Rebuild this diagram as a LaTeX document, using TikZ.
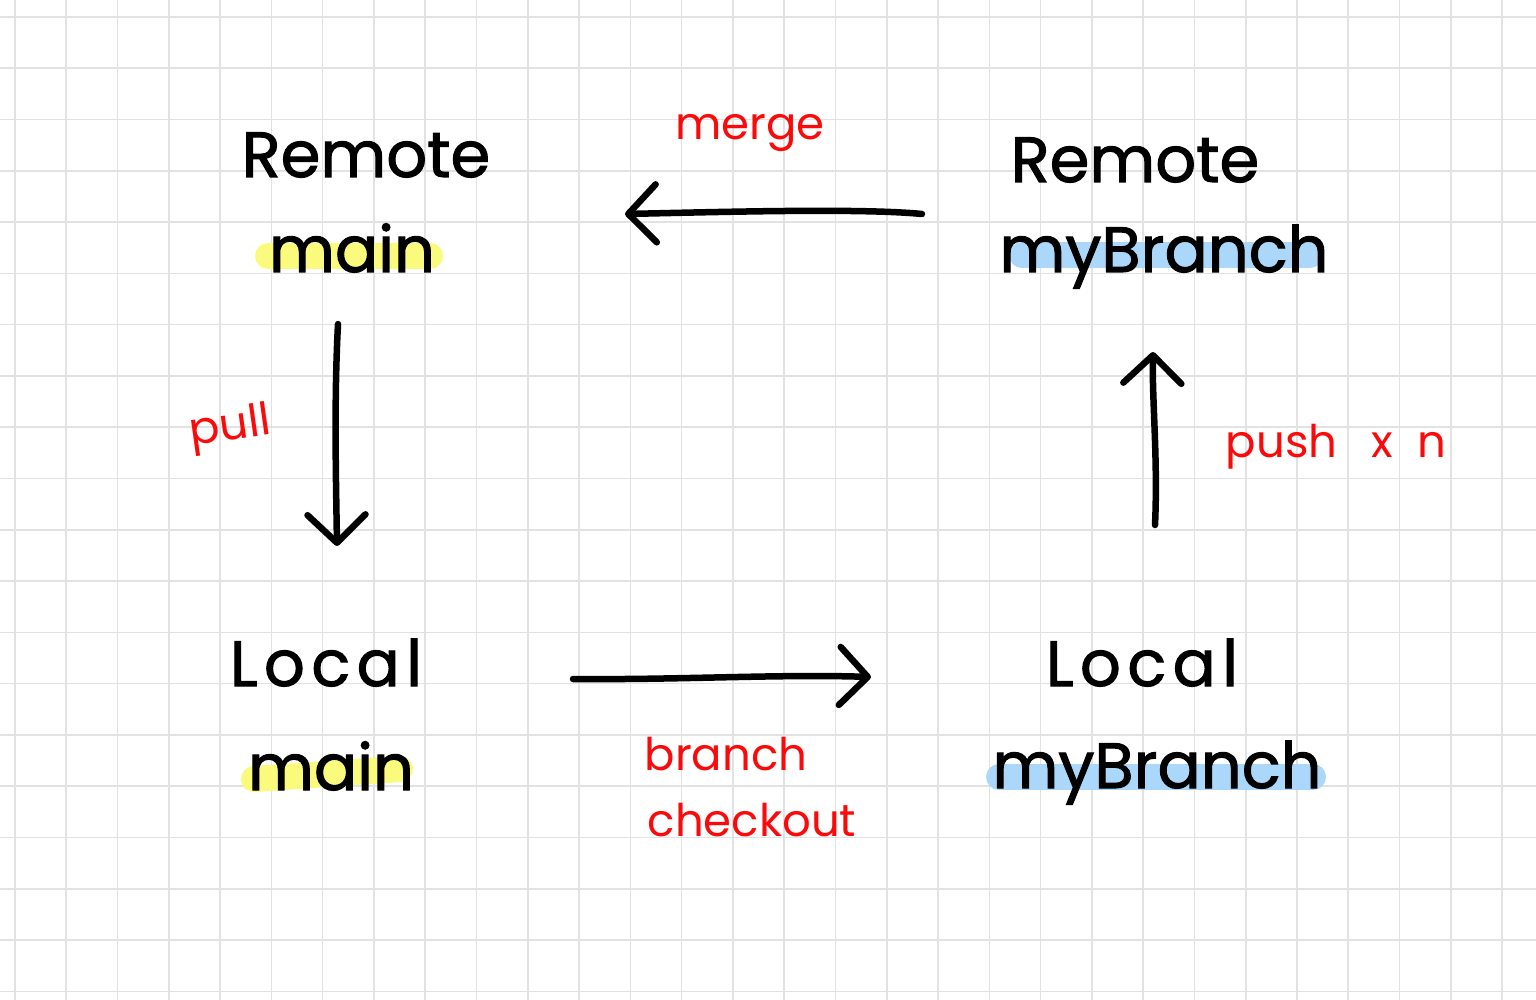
\documentclass[tikz,border=0pt]{standalone}
\usepackage{fontspec}
\setmainfont{Poppins}
\newfontfamily\inkfont{Poppins}[FakeBold=1.6]
\usetikzlibrary{arrows.meta}
\definecolor{gridgray}{RGB}{226,226,226}
\definecolor{hlyellow}{RGB}{250,250,125}
\definecolor{hlblue}{RGB}{170,215,250}
\definecolor{inkred}{RGB}{250,10,10}
\tikzset{
  gridline/.style={draw=gridgray, line width=1.6pt},
  bigtext/.style={anchor=base, inner sep=0pt, font=\inkfont\fontsize{64}{64}\selectfont},
  redtext/.style={anchor=base, inner sep=0pt, text=inkred, font=\fontsize{45}{45}\selectfont},
  hly/.style={draw=hlyellow, line width=26pt, line cap=round},
  hlb/.style={draw=hlblue, line width=26pt, line cap=round},
  flow/.style={draw=black, line width=6.5pt, line cap=round, line join=round,
    -{Straight Barb[length=28pt,width=58pt,round]}},
}
\begin{document}
\begin{tikzpicture}[x=1pt,y=-1pt]
\useasboundingbox (0,0) rectangle (1536,1000);
\fill[white] (0,0) rectangle (1536,1000);
% grid
\foreach \i in {0,...,29} \draw[gridline] ({15+51.28*\i},0) -- ({15+51.28*\i},1000);
\foreach \j in {0,...,19} \draw[gridline] (0,{17+51.28*\j}) -- (1536,{17+51.28*\j});
% highlights
\draw[hly] (268,256) -- (430,256);
\draw[hly] (254,779) -- (400,769);
\draw[hlb] (1022,255) -- (1310,255);
\draw[hlb] (999,777) -- (1313,777);
% labels
\node[bigtext] (rtitle) at (366,177) {Remote};
\node[bigtext] (rmain) at (352,272) {main};
\node[bigtext] (rbtitle) at (1135,182) {Remote};
\node[bigtext] (rbranch) at (1164,272) {myBranch};
\node[bigtext] (ltitle) at (326,686) {\addfontfeature{LetterSpace=10}Local};
\node[bigtext] (lmain) at (331,790) {main};
\node[bigtext] (lbtitle) at (1142,686) {\addfontfeature{LetterSpace=10}Local};
\node[bigtext] (lbranch) at (1157,788) {myBranch};
% red labels
\node[redtext] (merge) at (750,140) {merge};
\node[redtext, rotate=8] (pull) at (232,440) {pull};
\node[redtext] (push) at (1336,457) {push\hspace{0.75em}x\hspace{0.55em}n};
\node[redtext] (branch) at (726,770) {branch};
\node[redtext] (checkout) at (752,836) {checkout};
% arrow ends
\coordinate (mergeS) at (922,214);
\coordinate (mergeE) at (625,214);
\coordinate (pullS) at (338,324);
\coordinate (pullE) at (337,546);
\coordinate (pushS) at (1155,525);
\coordinate (pushE) at (1153,352);
\coordinate (brS) at (573,679);
\coordinate (brE) at (871,677);
% connectors
\draw[flow] (mergeS) .. controls (860,208) and (720,212) .. (mergeE);
\draw[flow] (pullS) .. controls (334,400) and (336,480) .. (pullE);
\draw[flow] (pushS) .. controls (1158,460) and (1152,400) .. (pushE);
\draw[flow] (brS) .. controls (680,680) and (780,674) .. (brE);
\end{tikzpicture}
\end{document}
